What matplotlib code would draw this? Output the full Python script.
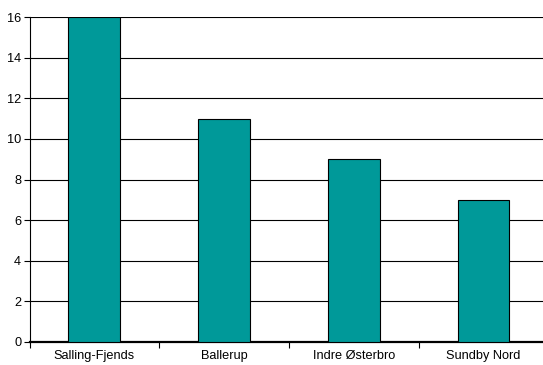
import matplotlib
matplotlib.use('Agg')
import matplotlib.pyplot as plt
import numpy as np

plt.rcParams['font.family'] = ['Liberation Sans', 'DejaVu Sans']

categories = ['Salling-Fjends', 'Ballerup', 'Indre Østerbro', 'Sundby Nord']
values = [16, 11, 9, 7]
yticks = [0, 2, 4, 6, 8, 10, 12, 14, 16]

fig = plt.figure(figsize=(5.43, 3.65), dpi=100)
ax = fig.add_axes([29.5 / 543, 23 / 365, 518.8 / 543, 325 / 365])

x = np.arange(len(categories))
ax.bar(x, values, width=0.4, color='#009999', edgecolor='black', linewidth=0.8, zorder=3)

ax.set_xlim(-0.5, 3.5)
ax.set_ylim(0, 16)
ax.set_yticks(yticks)
ax.set_yticklabels([str(v) for v in yticks], fontsize=9.2)
ax.yaxis.grid(True, color='black', linewidth=0.8, zorder=0)
ax.set_axisbelow(True)

# category labels centred, ticks between categories
ax.set_xticks(x)
ax.set_xticklabels(categories, fontsize=9.2)
ax.tick_params(axis='x', which='major', length=0, pad=6)
ax.set_xticks(np.arange(-0.5, 4, 1), minor=True)
ax.tick_params(axis='x', which='minor', length=4, width=0.8, direction='out')
ax.tick_params(axis='y', length=4, width=0.8, pad=2)

ax.spines['top'].set_visible(False)
ax.spines['right'].set_visible(False)
ax.spines['bottom'].set_linewidth(1.6)
ax.spines['left'].set_linewidth(0.8)

fig.savefig('out.png', dpi=100)
